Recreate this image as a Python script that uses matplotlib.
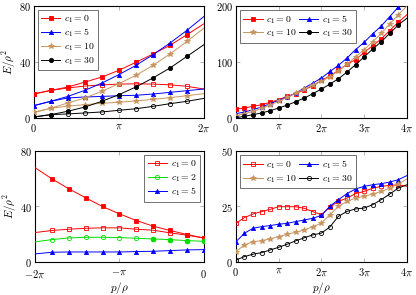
"""Four-panel E/rho^2 vs p/rho comparison, pgfplots look."""

import numpy as np
import matplotlib

matplotlib.use("Agg")
import matplotlib.pyplot as plt  # noqa: E402
from matplotlib.lines import Line2D  # noqa: E402

plt.rcParams["mathtext.fontset"] = "cm"
plt.rcParams["font.family"] = ["DejaVu Serif"]

PI = np.pi

# panel (a): x = 0 .. 2pi in steps of 0.2pi
A_X = np.linspace(0, 2, 11) * PI
A_RED_UP = [17.1, 19.7, 22.1, 25.6, 29.2, 34.0, 39.7, 45.6, 51.8, 59.4, 67.2]
A_RED_LO = [17.1, 19.7, 21.4, 22.8, 23.6, 24.2, 24.4, 24.2, 23.7, 22.6, 20.7]
A_BLUE_UP = [8.8, 11.9, 15.4, 19.7, 24.9, 30.9, 37.5, 45.1, 53.4, 62.5, 72.4]
A_BLUE_LO = [8.8, 11.9, 14.3, 15.0, 15.4, 15.9, 16.2, 17.1, 18.3, 19.5, 20.7]
A_BROWN_UP = [4.0, 6.9, 10.7, 14.3, 19.0, 24.5, 30.4, 37.5, 45.6, 54.6, 64.1]
A_BROWN_LO = [4.0, 6.9, 8.5, 9.5, 10.5, 11.2, 12.2, 13.3, 14.5, 15.9, 17.4]
A_BLACK_UP = [0.7, 2.4, 4.8, 7.8, 11.9, 16.6, 22.1, 28.5, 35.6, 43.9, 52.3]
A_BLACK_LO = [0.7, 2.4, 2.9, 3.6, 4.3, 5.5, 6.6, 8.3, 10.2, 11.9, 14.0]

# panel (b): x = 0 .. 4pi
B_X = np.linspace(0, 4, 21) * PI
B_RED = [16, 17.8, 20.8, 23.7, 27.9, 32.6, 38.6, 43.3, 50.4, 57.6, 67,
         75, 85, 96, 104, 117, 129, 141, 156, 171, 184]
B_BLUE = [7.7, 10.7, 14.8, 19.6, 25.5, 31.5, 37.4, 44.5, 53.4, 62.3, 71.2,
          83, 94, 107, 122, 135, 150, 164, 181, 198, 212]
B_BROWN = [4, 7.7, 11.9, 17.2, 23, 29.7, 36.8, 44.5, 51.6, 59.3, 65.3,
           74, 84, 96, 109, 122, 136, 151, 168, 184, 200]
B_BLACK = [0.6, 3, 6, 9, 13, 17.8, 23, 29, 35.6, 43.3, 51.6,
           60.5, 70, 82, 95, 109, 123, 136, 151, 166, 178]

# panel (c): x = -2pi .. 0
C_X = np.linspace(-2, 0, 11) * PI
C_RED_UP = [68, 60, 52.8, 46.3, 40, 34.7, 29.9, 25.8, 22.7, 19.8, 17.3]
C_RED_LO = [21.2, 22.7, 23.6, 24.3, 24.6, 24.6, 23.6, 22.9, 21.0, 19.3, 17.3]
C_GREEN = [14.5, 16.1, 17.3, 17.8, 17.8, 17.6, 17.1, 16.6, 16.1, 15.4, 14.9]
C_BLUE = [5.8, 7.0, 7.2, 7.2, 7.2, 7.2, 7.5, 7.7, 8.2, 8.7, 8.9]

# panel (d): x = 0 .. 4pi
D_X = np.linspace(0, 4, 21) * PI
D_RED = [17.4, 20, 21.6, 22.7, 23.7, 24.9, 24.9, 24.9, 24.2, 22.7, 21.3,
         24.8, 27.3, 28.8, 30.8, 31.8, 33.2, 34.1, 34.5, 34.8, 34.1]
D_BLUE = [9.1, 12.9, 15.2, 15.9, 16.4, 17.0, 17.4, 18.2, 18.9, 19.7, 21.0,
          25.1, 28.1, 30.8, 32.9, 34.1, 34.8, 35.3, 36.0, 37.1, 38.9]
D_BROWN = [4.6, 7.7, 9.1, 9.6, 10.4, 11.4, 12.5, 13.4, 14.4, 15.9, 17.5,
           21.3, 25.1, 27.3, 28.8, 29.6, 30.6, 31.8, 33.3, 35.1, 37.4]
D_BLACK = [0.9, 2.4, 3.5, 4.2, 5.4, 6.6, 8.0, 9.5, 10.9, 12.2, 13.0,
           15.8, 20.6, 22.8, 23.9, 24.3, 25.8, 28.1, 30.6, 33.3, 34.8]

RED = "#ff0000"
BLUE = "#0000ff"
BROWN = "#c8955e"
BLACK = "#000000"
GREEN = "#00e000"

TICKS_2PI = ([0, PI, 2 * PI], ["$0$", r"$\pi$", r"$2\pi$"])
TICKS_4PI = ([0, PI, 2 * PI, 3 * PI, 4 * PI],
             ["$0$", r"$\pi$", r"$2\pi$", r"$3\pi$", r"$4\pi$"])
TICKS_NEG = ([-2 * PI, -PI, 0], [r"$-2\pi$", r"$-\pi$", "$0$"])

MS = {"s": 3.0, "^": 3.0, "*": 4.0, "o": 3.0}


def line(ax, x, y, color, marker, filled=True, every=None):
    ax.plot(x, y, color=color, lw=0.7, marker=marker, ms=MS[marker],
            mfc=color if filled else "none", mec=color, mew=0.6,
            markevery=every, zorder=3)


def proxy(color, marker, filled=True):
    return Line2D([], [], color=color, lw=0.7, marker=marker, ms=MS[marker],
                  mfc=color if filled else "none", mec=color, mew=0.6)


def style(ax, xticks, ylim, yticks, xpad=3):
    ax.set_xlim(xticks[0][0], xticks[0][-1])
    ax.set_ylim(*ylim)
    ax.set_xticks(xticks[0])
    ax.set_xticklabels(xticks[1])
    ax.set_yticks(yticks)
    ax.set_yticklabels([f"${v}$" for v in yticks])
    ax.tick_params(direction="in", top=True, right=True, length=3,
                   width=0.5, color="0.6", labelsize=7.5, pad=2)
    ax.tick_params(axis="x", pad=xpad)
    for s in ax.spines.values():
        s.set_linewidth(0.8)


def legend(ax, handles, labels, loc, ncol=1):
    leg = ax.legend(handles, labels, loc=loc, ncol=ncol, fontsize=7,
                    frameon=True, fancybox=False, edgecolor="0.3",
                    handlelength=2.0, handletextpad=0.4, borderpad=0.35,
                    labelspacing=0.2, columnspacing=0.2, borderaxespad=0.4)
    leg.get_frame().set_linewidth(0.7)


fig = plt.figure(figsize=(4.16, 2.95), dpi=100)
ax1 = fig.add_axes([0.081, 0.600, 0.409, 0.380])
ax2 = fig.add_axes([0.567, 0.600, 0.411, 0.380])
ax3 = fig.add_axes([0.084, 0.112, 0.406, 0.376])
ax4 = fig.add_axes([0.567, 0.112, 0.411, 0.376])

ev = slice(0, 10)
ev20 = slice(0, 20)
L4 = ["$c_1 = 0$", "$c_1 = 5$", "$c_1 = 10$", "$c_1 = 30$"]

line(ax1, A_X, A_RED_LO, RED, "s", filled=False, every=ev)
line(ax1, A_X, A_BLUE_LO, BLUE, "^", every=ev)
line(ax1, A_X, A_BROWN_LO, BROWN, "*", every=ev)
line(ax1, A_X, A_BLACK_LO, BLACK, "o", filled=False, every=ev)
line(ax1, A_X, A_RED_UP, RED, "s", every=ev)
line(ax1, A_X, A_BLUE_UP, BLUE, "^", every=ev)
line(ax1, A_X, A_BROWN_UP, BROWN, "*", every=ev)
line(ax1, A_X, A_BLACK_UP, BLACK, "o", every=ev)
style(ax1, TICKS_2PI, (0, 80), [0, 40, 80])
legend(ax1, [proxy(RED, "s"), proxy(BLUE, "^"), proxy(BROWN, "*"),
             proxy(BLACK, "o")], L4, "upper left")
ax1.set_ylabel(r"$E/\rho^2$", fontsize=8, labelpad=1)

line(ax2, B_X, B_RED, RED, "s", every=ev20)
line(ax2, B_X, B_BLUE, BLUE, "^", every=ev20)
line(ax2, B_X, B_BROWN, BROWN, "*", every=ev20)
line(ax2, B_X, B_BLACK, BLACK, "o", every=ev20)
style(ax2, TICKS_4PI, (0, 200), [0, 100, 200])
legend(ax2, [proxy(RED, "s"), proxy(BROWN, "*"), proxy(BLUE, "^"),
             proxy(BLACK, "o")], [L4[0], L4[2], L4[1], L4[3]],
       "upper left", ncol=2)

evc = slice(1, 11)
line(ax3, C_X, C_RED_UP, RED, "s", every=evc)
line(ax3, C_X, C_RED_LO, RED, "s", filled=False, every=evc)
line(ax3, C_X, C_GREEN, GREEN, "o", filled=False, every=evc)
ax3.plot(C_X[7:], C_GREEN[7:], ls="none", marker="o", ms=MS["o"], color=GREEN,
         zorder=3)
line(ax3, C_X, C_BLUE, BLUE, "^", every=evc)
style(ax3, TICKS_NEG, (0, 80), [0, 40, 80], xpad=4.5)
legend(ax3, [proxy(RED, "s", False), proxy(GREEN, "o", False),
             proxy(BLUE, "^")], ["$c_1 = 0$", "$c_1 = 2$", "$c_1 = 5$"],
       "upper right")
ax3.set_ylabel(r"$E/\rho^2$", fontsize=8, labelpad=1)
ax3.set_xlabel(r"$p/\rho$", fontsize=8, labelpad=0)

line(ax4, D_X, D_RED, RED, "s", filled=False, every=ev20)
line(ax4, D_X, D_BLUE, BLUE, "^", every=ev20)
line(ax4, D_X, D_BROWN, BROWN, "*", every=ev20)
line(ax4, D_X, D_BLACK, BLACK, "o", filled=False, every=ev20)
style(ax4, TICKS_4PI, (0, 50), [0, 25, 50])
legend(ax4, [proxy(RED, "s", False), proxy(BROWN, "*"), proxy(BLUE, "^"),
             proxy(BLACK, "o", False)], [L4[0], L4[2], L4[1], L4[3]],
       "upper left", ncol=2)
ax4.set_xlabel(r"$p/\rho$", fontsize=8, labelpad=1)

fig.savefig("out.png", dpi=100)
